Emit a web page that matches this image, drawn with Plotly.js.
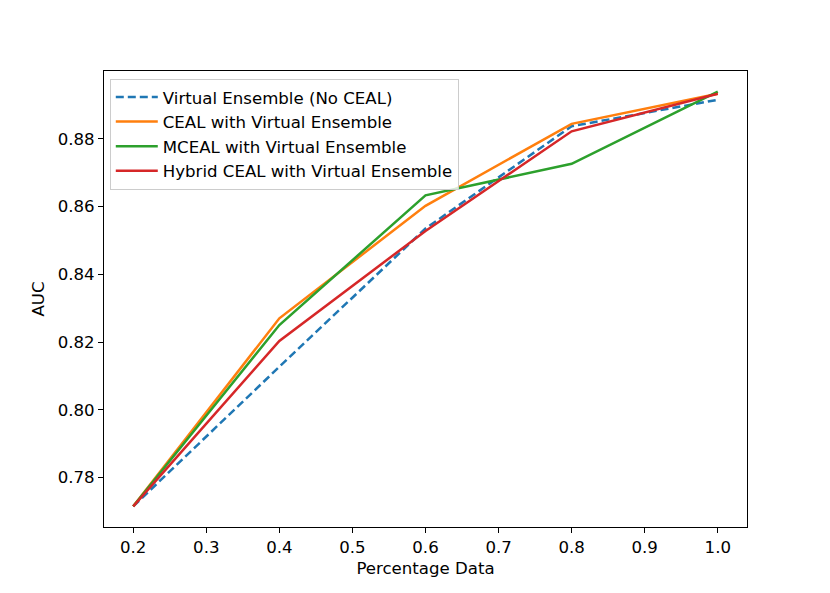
<!DOCTYPE html>
<html>
<head>
<meta charset="utf-8">
<script src="https://cdn.plot.ly/plotly-3.0.1.min.js"></script>
<style>
  html, body { margin: 0; padding: 0; background: #fff; }
  #chart { width: 830px; height: 593px; }
</style>
</head>
<body>
<div id="chart"></div>
<script>
// percentage of data used
var pct = [0.2, 0.4, 0.6, 0.8, 1.0];

// AUC per method
var virtualEnsemble = [0.7715, 0.8127, 0.8535, 0.8837, 0.8915];
var cealVE = [0.7715, 0.8270, 0.8602, 0.8844, 0.8933];
var mcealVE = [0.7715, 0.8250, 0.8633, 0.8726, 0.8939];
var hybridVE = [0.7715, 0.8203, 0.8528, 0.8822, 0.8933];

var xTicks = [0.2, 0.3, 0.4, 0.5, 0.6, 0.7, 0.8, 0.9, 1.0];
var xTickText = ["0.2", "0.3", "0.4", "0.5", "0.6", "0.7", "0.8", "0.9", "1.0"];
var yTicks = [0.78, 0.80, 0.82, 0.84, 0.86, 0.88];
var yTickText = ["0.78", "0.80", "0.82", "0.84", "0.86", "0.88"];

function line(name, y, color, dash) {
  return {
    x: pct, y: y, name: name, type: 'scatter', mode: 'lines',
    line: { color: color, width: 2.5, dash: dash || 'solid' }
  };
}

var data = [
  line('Virtual Ensemble (No CEAL)', virtualEnsemble, '#1f77b4', '8px,4px'),
  line('CEAL with Virtual Ensemble', cealVE, '#ff7f0e'),
  line('MCEAL with Virtual Ensemble', mcealVE, '#2ca02c'),
  line('Hybrid CEAL with Virtual Ensemble', hybridVE, '#d62728')
];

var fs = 16.6;

var axisCommon = {
  showgrid: false, zeroline: false,
  showline: true, mirror: true, linecolor: '#000', linewidth: 1,
  ticks: 'outside', ticklen: 5, tickwidth: 1, tickcolor: '#000',
  tickfont: { size: fs, color: '#000' }
};

var layout = {
  width: 830, height: 593,
  margin: { l: 104, r: 83, t: 71, b: 66 },
  paper_bgcolor: '#fff', plot_bgcolor: '#fff',
  font: { family: 'DejaVu Sans', size: fs, color: '#000' },
  showlegend: true,
  legend: {
    x: 0.009, y: 0.983, xanchor: 'left', yanchor: 'top',
    bgcolor: 'rgba(255,255,255,0.8)', bordercolor: '#cccccc', borderwidth: 1,
    font: { size: fs }, tracegroupgap: 0, itemwidth: 42
  },
  xaxis: Object.assign({}, axisCommon, {
    range: [0.16, 1.04], tickvals: xTicks, ticktext: xTickText,
    title: { text: 'Percentage Data', font: { size: fs }, standoff: 6 }
  }),
  yaxis: Object.assign({}, axisCommon, {
    range: [0.7654, 0.9000], tickvals: yTicks, ticktext: yTickText,
    title: { text: 'AUC', font: { size: fs }, standoff: 8 }
  })
};

Plotly.newPlot('chart', data, layout, { displayModeBar: false, staticPlot: true });
</script>
</body>
</html>
